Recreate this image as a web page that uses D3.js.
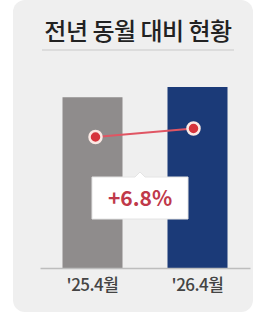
<!DOCTYPE html>
<html><head><meta charset="utf-8">
<script src="https://cdn.jsdelivr.net/npm/d3@7"></script>
<style>
html,body{margin:0;padding:0;background:#fff;}
svg{display:block;}
</style></head>
<body>
<svg id="c" width="260" height="317"></svg>
<script>
const title = "전년 동월 대비 현황";
const categories = ["'25.4월", "'26.4월"];
const barValues = [100, 106];
const lineValues = [100, 106.8];
const changeLabel = "+6.8%";
const barColors = ["#8f8c8c", "#1b3a78"];

(function () {
const svg = d3.select("#c");
const font = "'Noto Sans CJK KR','Noto Sans',sans-serif";

// panel
svg.append("rect").attr("x", 13).attr("y", 0).attr("width", 240).attr("height", 312)
  .attr("rx", 12).attr("fill", "#efefef");

// title
svg.append("text").attr("x", 138).attr("y", 40).attr("text-anchor", "middle")
  .attr("font-family", font).attr("font-size", 24).attr("font-weight", 500)
  .attr("fill", "#222").attr("letter-spacing", "-0.5").text(title);
svg.append("line").attr("x1", 42).attr("x2", 234).attr("y1", 50).attr("y2", 50)
  .attr("stroke", "#dcdcdc").attr("stroke-width", 2);

const x = d3.scaleBand().domain(categories).range([40, 250]).paddingInner(0.4286).paddingOuter(0.2143);
const y = d3.scaleLinear().domain([0, 106]).range([268, 87]);

svg.selectAll(".bar").data(categories).enter().append("rect")
  .attr("x", d => x(d)).attr("width", x.bandwidth())
  .attr("y", (d, i) => y(barValues[i])).attr("height", (d, i) => 268 - y(barValues[i]))
  .attr("fill", (d, i) => barColors[i]);

// axis
const axis = svg.append("g").attr("transform", "translate(0,268)")
  .call(d3.axisBottom(x).tickSize(0).tickPadding(11));
axis.select(".domain").attr("stroke", "#bdbdbd").attr("stroke-width", 1.5);
axis.selectAll("text").attr("font-family", font).attr("font-size", 17).attr("font-weight", 500)
  .attr("fill", "#444").attr("letter-spacing", "-0.5");

// line
const y2 = d3.scaleLinear().domain([100, 106.8]).range([137, 128.5]);
const px = (d, i) => x(d) + x.bandwidth() / 2 + (i === 0 ? 3 : -4);
const pts = categories.map((d, i) => [px(d, i), y2(lineValues[i])]);
svg.append("path").attr("d", d3.line()(pts)).attr("stroke", "#e05563")
  .attr("stroke-width", 2).attr("fill", "none");
svg.selectAll(".pt").data(pts).enter().append("circle")
  .attr("cx", d => d[0]).attr("cy", d => d[1]).attr("r", 6)
  .attr("fill", "#d6343c").attr("stroke", "#fbe9e4").attr("stroke-width", 2.5);

// callout
const cx = 140, boxTop = 177, bw = 96, bh = 42;
const path = `M${cx - bw/2},${boxTop} H${cx - 5} L${cx},${boxTop - 5} L${cx + 5},${boxTop} H${cx + bw/2} V${boxTop + bh} H${cx - bw/2} Z`;
svg.append("path").attr("d", path).attr("fill", "#fff").attr("stroke", "#e4e4e4").attr("stroke-width", 1);
svg.append("text").attr("x", cx).attr("y", boxTop + 29).attr("text-anchor", "middle")
  .attr("font-family", font).attr("font-size", 21).attr("font-weight", 700)
  .attr("fill", "#c0394a").text(changeLabel);
})();
</script>
</body></html>
